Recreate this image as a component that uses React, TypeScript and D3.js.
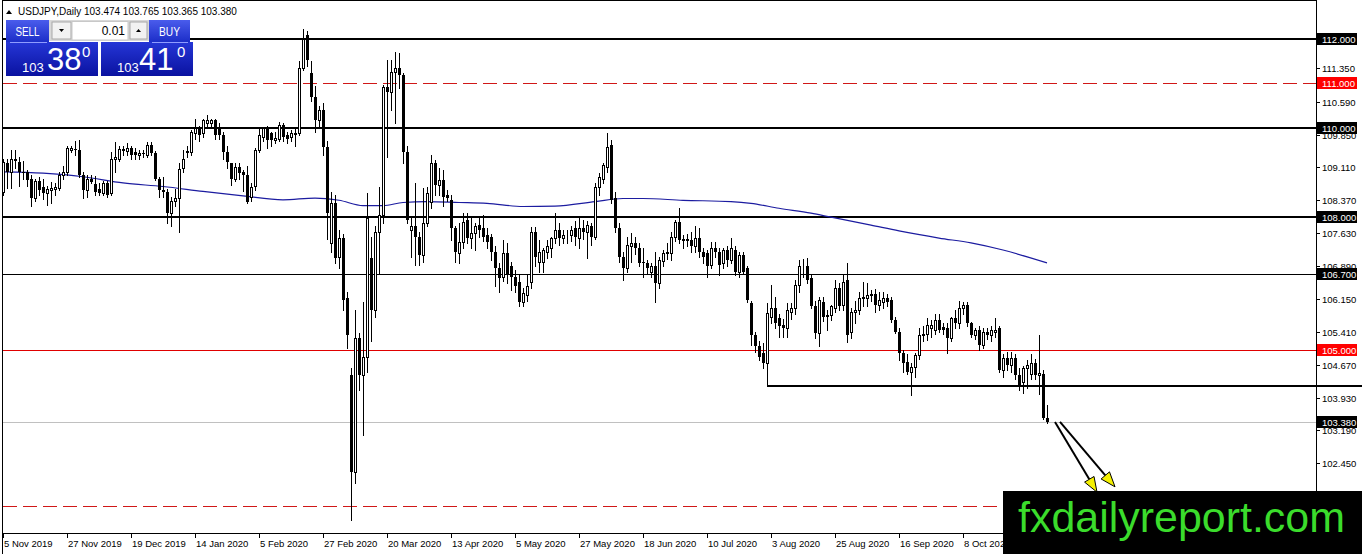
import * as d3 from 'd3'

// USDJPY daily bars starting 5 Nov 2019: [open, high, low, close]
const candles: [number, number, number, number][] = [
  // Nov 2019
  [108.56, 109.30, 108.50, 109.24], [109.20, 109.30, 108.64, 109.00], [109.00, 109.50, 108.64, 109.29],
  [109.28, 109.50, 109.10, 109.31], [109.24, 109.35, 108.70, 109.01], [109.01, 109.25, 108.85, 108.98],
  [109.00, 109.05, 108.70, 108.83], [108.84, 108.95, 108.23, 108.41], [108.41, 108.85, 108.35, 108.80],
  [108.80, 108.90, 108.50, 108.60], [108.68, 108.85, 108.40, 108.53], [108.54, 108.70, 108.26, 108.63],
  [108.60, 108.78, 108.30, 108.64], [108.62, 108.75, 108.50, 108.66], [108.64, 109.00, 108.60, 108.94],
  [108.94, 109.15, 108.85, 109.01], [109.01, 109.60, 108.95, 109.54], [109.50, 109.60, 109.45, 109.54],
  [109.53, 109.71, 109.40, 109.50],
  // Dec 2019
  [109.50, 109.73, 108.90, 108.94], [108.94, 109.00, 108.41, 108.60], [108.60, 108.95, 108.45, 108.86],
  [108.86, 108.95, 108.75, 108.79], [108.74, 108.92, 108.50, 108.56], [108.63, 108.75, 108.48, 108.53],
  [108.53, 108.80, 108.48, 108.75], [108.75, 108.80, 108.45, 108.49], [108.53, 109.46, 108.48, 109.31],
  [109.31, 109.69, 109.00, 109.35], [109.29, 109.60, 109.25, 109.52], [109.52, 109.60, 109.40, 109.47],
  [109.47, 109.65, 109.40, 109.54], [109.54, 109.60, 109.30, 109.39], [109.45, 109.55, 109.30, 109.38],
  [109.38, 109.50, 109.30, 109.43], [109.43, 109.50, 109.35, 109.41], [109.39, 109.69, 109.35, 109.61],
  [109.61, 109.69, 109.40, 109.43], [109.43, 109.48, 108.83, 108.86], [108.86, 108.90, 108.45, 108.60],
  // Jan 2020
  [108.60, 108.90, 108.45, 108.55], [108.55, 108.62, 107.85, 108.08], [108.08, 108.45, 107.78, 108.35],
  [108.35, 108.62, 108.25, 108.41], [108.41, 109.20, 107.66, 109.08], [109.09, 109.50, 109.00, 109.31],
  [109.49, 109.60, 109.35, 109.44], [109.46, 109.95, 109.40, 109.91], [109.88, 110.20, 109.75, 109.99],
  [109.99, 110.05, 109.70, 109.84], [109.88, 110.20, 109.80, 110.18], [110.12, 110.29, 110.00, 110.18],
  [110.12, 110.20, 110.05, 110.18], [110.18, 110.20, 109.75, 109.84], [109.98, 110.10, 109.75, 109.84],
  [109.84, 109.90, 109.30, 109.46], [109.46, 109.60, 109.10, 109.24], [109.20, 109.20, 108.72, 108.86],
  [108.86, 109.20, 108.80, 109.13], [109.13, 109.20, 108.85, 108.98], [109.00, 109.05, 108.58, 108.94],
  [108.94, 109.15, 108.30, 108.34],
  // Feb 2020
  [108.45, 108.75, 108.35, 108.68], [108.70, 109.55, 108.60, 109.50], [109.50, 110.00, 109.45, 109.84],
  [109.80, 110.02, 109.70, 109.99], [109.99, 110.05, 109.55, 109.73], [109.88, 109.90, 109.60, 109.73],
  [109.73, 109.90, 109.65, 109.78], [109.76, 110.14, 109.70, 110.06], [110.06, 110.10, 109.70, 109.80],
  [109.84, 109.90, 109.65, 109.76], [109.80, 109.95, 109.70, 109.88], [109.86, 110.00, 109.60, 109.88],
  [109.88, 111.50, 109.85, 111.34], [111.34, 112.23, 111.30, 112.01], [112.09, 112.17, 111.40, 111.53],
  [111.23, 111.50, 110.60, 110.70], [110.70, 110.95, 109.90, 110.18], [110.18, 110.50, 110.00, 110.40],
  [110.40, 110.55, 109.40, 109.58], [109.58, 109.70, 107.50, 108.08],
  // Mar 2020
  [107.40, 108.56, 107.20, 108.30], [108.30, 108.50, 106.95, 107.06], [107.10, 107.70, 106.84, 107.51],
  [107.51, 107.60, 105.90, 106.13], [106.16, 106.30, 105.04, 105.34], [104.44, 104.60, 101.17, 102.26],
  [102.26, 105.90, 102.00, 105.26], [105.26, 105.38, 104.10, 104.44], [104.44, 106.09, 103.09, 104.85],
  [104.85, 108.53, 104.51, 107.96], [107.06, 107.55, 105.20, 105.90], [105.90, 107.78, 105.75, 107.66],
  [107.66, 108.68, 106.73, 108.04], [108.04, 110.96, 107.85, 110.93], [110.93, 111.53, 109.35, 110.81],
  [110.81, 111.53, 110.40, 111.26], [111.26, 111.71, 110.10, 111.34], [111.34, 111.68, 110.90, 111.19],
  [111.19, 111.23, 109.20, 109.46], [109.46, 109.60, 107.85, 107.93], [107.70, 107.96, 107.10, 107.78],
  [107.78, 108.75, 106.91, 107.55],
  // Apr 2020
  [107.55, 107.66, 106.91, 107.14], [107.14, 108.64, 106.98, 107.85], [107.85, 108.68, 107.78, 108.53],
  [108.34, 109.38, 108.20, 109.20], [109.20, 109.28, 108.50, 108.71], [108.71, 109.10, 108.50, 108.83],
  [108.83, 109.05, 108.23, 108.45], [108.49, 108.60, 108.35, 108.42], [108.38, 108.50, 107.48, 107.74],
  [107.74, 107.80, 106.98, 107.21], [107.18, 107.85, 106.95, 107.44], [107.44, 108.08, 107.29, 107.89],
  [107.93, 108.08, 107.40, 107.51], [107.51, 108.00, 107.30, 107.63], [107.63, 107.85, 107.25, 107.78],
  [107.81, 107.96, 107.55, 107.70], [107.74, 108.04, 107.45, 107.55], [107.59, 107.75, 107.30, 107.44],
  [107.55, 107.60, 107.03, 107.21], [107.21, 107.33, 106.43, 106.84], [106.84, 106.95, 106.31, 106.61],
  [106.65, 107.48, 106.55, 107.18],
  // May 2020
  [107.18, 107.40, 106.50, 106.69], [106.88, 106.99, 106.35, 106.65], [106.65, 106.80, 106.30, 106.43],
  [106.54, 106.70, 105.98, 106.09], [106.09, 106.40, 105.98, 106.28], [106.24, 106.70, 106.10, 106.43],
  [106.54, 107.77, 106.40, 107.66], [107.66, 107.77, 106.90, 107.10], [106.99, 107.48, 106.76, 107.21],
  [106.99, 107.30, 106.75, 107.25], [107.21, 107.48, 107.06, 107.33], [107.29, 107.55, 107.10, 107.51],
  [107.51, 108.08, 107.40, 107.70], [107.70, 107.85, 107.36, 107.51], [107.51, 107.70, 107.40, 107.59],
  [107.60, 107.70, 107.40, 107.62], [107.59, 107.78, 107.45, 107.70], [107.74, 107.90, 107.36, 107.55],
  [107.51, 107.96, 107.29, 107.74], [107.74, 107.93, 107.50, 107.66], [107.66, 107.90, 107.06, 107.81],
  // Jun 2020
  [107.78, 107.85, 107.36, 107.55], [107.55, 108.75, 107.50, 108.68], [108.68, 108.98, 108.50, 108.90],
  [108.86, 109.20, 108.75, 109.16], [109.13, 109.88, 109.00, 109.58], [109.61, 109.73, 108.30, 108.38],
  [108.41, 108.55, 107.65, 107.74], [107.74, 107.85, 106.99, 107.10], [107.10, 107.20, 106.58, 106.84],
  [106.84, 107.55, 106.76, 107.36], [107.33, 107.63, 106.99, 107.40], [107.40, 107.55, 107.15, 107.30],
  [107.30, 107.40, 106.90, 106.96], [106.99, 107.29, 106.65, 106.95], [106.95, 107.03, 106.70, 106.84],
  [106.76, 106.95, 106.65, 106.89], [106.88, 107.21, 106.09, 106.50], [106.50, 107.10, 106.39, 107.03],
  [107.00, 107.25, 106.90, 107.18], [107.18, 107.40, 107.05, 107.21], [107.18, 107.66, 107.03, 107.55],
  [107.55, 107.93, 107.45, 107.89],
  // Jul 2020
  [107.89, 108.19, 107.40, 107.48], [107.49, 107.59, 107.30, 107.46], [107.47, 107.60, 107.35, 107.49],
  [107.48, 107.66, 107.20, 107.33], [107.33, 107.78, 107.20, 107.51], [107.51, 107.74, 107.10, 107.21],
  [107.21, 107.30, 106.95, 107.10], [107.18, 107.25, 106.65, 106.88], [106.91, 107.44, 106.85, 107.29],
  [107.29, 107.44, 107.10, 107.21], [107.21, 107.30, 106.69, 106.91], [106.95, 107.30, 106.85, 107.25],
  [107.25, 107.33, 106.90, 107.03], [107.03, 107.51, 106.95, 107.29], [107.25, 107.33, 106.69, 106.76],
  [106.76, 107.20, 106.65, 107.14], [107.14, 107.20, 106.70, 106.76], [106.84, 106.90, 106.09, 106.13],
  [106.05, 106.10, 105.11, 105.34], [105.34, 105.41, 104.95, 105.08], [105.08, 105.20, 104.78, 104.85],
  [104.93, 105.15, 104.60, 104.70], [104.70, 106.05, 104.20, 105.83],
  // Aug 2020
  [105.75, 106.46, 105.60, 105.94], [105.94, 106.20, 105.50, 105.60], [105.71, 105.80, 105.30, 105.53],
  [105.56, 105.70, 105.30, 105.49], [105.49, 106.05, 105.30, 105.90], [105.86, 106.05, 105.70, 105.94],
  [105.94, 106.58, 105.80, 106.46], [106.46, 107.03, 106.30, 106.88], [106.88, 107.05, 106.65, 106.90],
  [106.88, 107.06, 106.50, 106.58], [106.61, 106.70, 105.94, 105.98], [105.98, 106.10, 105.26, 105.38],
  [105.38, 106.20, 105.08, 106.13], [106.09, 106.20, 105.65, 105.75], [105.79, 105.90, 105.45, 105.75],
  [105.79, 106.01, 105.68, 105.98], [105.94, 106.58, 105.85, 106.39], [106.39, 106.50, 105.90, 105.98],
  [106.01, 106.69, 105.90, 106.54], [106.58, 106.95, 105.19, 105.34], [105.41, 105.95, 105.26, 105.86],
  // Sep 2020
  [105.86, 106.10, 105.60, 105.90], [105.90, 106.31, 105.80, 106.16], [106.16, 106.54, 106.00, 106.20],
  [106.16, 106.50, 106.00, 106.24], [106.24, 106.35, 106.10, 106.27], [106.27, 106.38, 105.85, 106.01],
  [106.01, 106.31, 105.90, 106.13], [106.09, 106.30, 105.95, 106.16], [106.16, 106.27, 106.00, 106.09],
  [106.12, 106.20, 105.64, 105.68], [105.68, 105.75, 105.38, 105.41], [105.41, 105.50, 104.78, 104.93],
  [104.93, 105.00, 104.51, 104.70], [104.74, 104.90, 104.45, 104.51], [104.51, 104.70, 103.99, 104.62],
  [104.62, 104.93, 104.40, 104.89], [104.89, 105.49, 104.80, 105.34], [105.34, 105.53, 105.20, 105.37],
  [105.37, 105.71, 105.23, 105.56], [105.49, 105.68, 105.30, 105.56], [105.45, 105.80, 105.35, 105.68],
  [105.68, 105.80, 105.40, 105.45],
  // Oct 2020
  [105.51, 105.60, 105.35, 105.45], [105.49, 105.60, 104.93, 105.26], [105.26, 105.75, 105.20, 105.71],
  [105.71, 105.90, 105.50, 105.60], [105.60, 106.10, 105.50, 105.94], [105.94, 106.07, 105.80, 106.01],
  [106.01, 106.07, 105.55, 105.60], [105.60, 105.64, 105.30, 105.34], [105.34, 105.50, 105.25, 105.46],
  [105.46, 105.55, 105.00, 105.11], [105.11, 105.49, 105.05, 105.41], [105.41, 105.50, 105.25, 105.34],
  [105.34, 105.55, 105.20, 105.45], [105.41, 105.71, 105.30, 105.45], [105.49, 105.55, 104.50, 104.55],
  [104.55, 104.90, 104.40, 104.81], [104.81, 104.95, 104.55, 104.66], [104.66, 104.95, 104.50, 104.81],
  [104.81, 104.90, 104.35, 104.44], [104.44, 104.60, 104.10, 104.20], [104.29, 104.65, 104.03, 104.59],
  [104.59, 104.78, 104.15, 104.66],
  // Nov 2020
  [104.47, 104.92, 104.35, 104.70], [104.70, 104.80, 104.35, 104.44], [104.44, 105.34, 104.00, 104.49],
  [104.47, 104.55, 103.44, 103.46], [103.474, 103.765, 103.365, 103.38],
]

// 200-day moving average, read at a few bars
const maBars = [0, 10, 20, 30, 40, 50, 60, 70, 78, 84, 90, 95, 100, 106, 114, 121, 130, 138, 148, 155, 160, 170, 182, 187, 194, 202, 207, 217, 224, 234, 242, 250, 261]
const maValues = [109.01, 108.98, 108.9, 108.76, 108.68, 108.57, 108.47, 108.38, 108.42, 108.37, 108.25, 108.25, 108.32, 108.34, 108.32, 108.3, 108.23, 108.24, 108.34, 108.41, 108.41, 108.37, 108.34, 108.3, 108.19, 108.08, 107.99, 107.81, 107.68, 107.52, 107.41, 107.25, 106.96]

const dateTickBars = [0, 16, 32, 48, 64, 80, 96, 112, 128, 144, 160, 176, 192, 208, 224, 240]
const dateTickLabels = ['5 Nov 2019', '27 Nov 2019', '19 Dec 2019', '14 Jan 2020', '5 Feb 2020', '27 Feb 2020', '20 Mar 2020', '13 Apr 2020', '5 May 2020', '27 May 2020', '18 Jun 2020', '10 Jul 2020', '3 Aug 2020', '25 Aug 2020', '16 Sep 2020', '8 Oct 2020']
const priceTicks = [111.35, 110.59, 109.85, 109.11, 108.37, 107.63, 106.89, 106.15, 105.41, 104.67, 103.93, 103.19, 102.45]

// horizontal levels drawn on the chart
const thickLevels = [112, 110, 108]
const thinLevel = 106.7
const redLevel = 105
const dashedLevels = [111, 101.5]
const supportLevel = 104.2
const supportFromBar = 191
const bid = 103.38
const ask = 103.41
const lot = '0.01'

// the two hand-drawn arrows: [bar, price]
const arrowStarts: [number, number][] = [[263, 103.38], [264.25, 103.38]]
const arrowTips: [number, number][] = [[273.5, 101.8], [278, 101.92]]

const W = 1362
const H = 554
const AXIS_X = 1316
const AXIS_Y = 534
const FONT = "'Liberation Sans', Arial, sans-serif"

function splitPrice(p: number) {
  const s = p.toFixed(3)
  return { head: s.slice(0, 3), big: s.slice(4, 6), tail: s.slice(6) }
}

export default function App() {
  const x = d3.scaleLinear().domain([0, 261]).range([3, 1047])
  const y = d3.scaleLinear().domain([105, 112]).range([350, 39])

  const maLine = d3
    .line<number>()
    .x((_, i) => x(maBars[i]))
    .y(d => y(d))
    .curve(d3.curveMonotoneX)

  const last = candles[candles.length - 1]
  const header = last.map(v => v.toFixed(3)).join(' ')
  const sellP = splitPrice(bid)
  const buyP = splitPrice(ask)

  const tagged: { price: number; color: string }[] = [
    ...thickLevels.map(p => ({ price: p, color: '#000' })),
    { price: thinLevel, color: '#000' },
    { price: dashedLevels[0], color: '#ff0000' },
    { price: redLevel, color: '#ff0000' },
    { price: bid, color: '#000' },
  ]

  const arrowHead = (s: [number, number], t: [number, number]) => {
    const x0 = x(s[0]), y0 = y(s[1]), x1 = x(t[0]), y1 = y(t[1])
    const len = Math.hypot(x1 - x0, y1 - y0)
    const ux = (x1 - x0) / len, uy = (y1 - y0) / len
    const bx = x1 - ux * 15, by = y1 - uy * 15
    const px = -uy * 5.5, py = ux * 5.5
    return { x0, y0, bx, by, pts: `${x1},${y1} ${bx + px},${by + py} ${bx - px},${by - py}` }
  }

  return (
    <svg width={W} height={H} style={{ position: 'absolute', left: 0, top: 0, background: '#fff' }} fontFamily={FONT}>
      <defs>
        <linearGradient id="btn" x1="0" y1="0" x2="0" y2="1">
          <stop offset="0" stopColor="#4a5cec" />
          <stop offset="1" stopColor="#1c2ec8" />
        </linearGradient>
        <linearGradient id="box" x1="0" y1="0" x2="0" y2="1">
          <stop offset="0" stopColor="#2536d6" />
          <stop offset="1" stopColor="#0a12a0" />
        </linearGradient>
        <clipPath id="plot">
          <rect x={3} y={0} width={AXIS_X - 3} height={AXIS_Y} />
        </clipPath>
      </defs>
      <rect width={W} height={H} fill="#fff" />

      {/* levels */}
      <g shapeRendering="crispEdges">
        {thickLevels.map(p => (
          <line key={p} x1={3} x2={AXIS_X} y1={Math.round(y(p))} y2={Math.round(y(p))} stroke="#000" strokeWidth={2} />
        ))}
        <line x1={3} x2={AXIS_X} y1={Math.round(y(thinLevel)) + 0.5} y2={Math.round(y(thinLevel)) + 0.5} stroke="#000" />
        <line x1={3} x2={AXIS_X} y1={Math.round(y(redLevel)) + 0.5} y2={Math.round(y(redLevel)) + 0.5} stroke="#e00000" />
        {dashedLevels.map(p => (
          <line key={p} x1={3} x2={AXIS_X} y1={Math.round(y(p)) + 0.5} y2={Math.round(y(p)) + 0.5} stroke="#d01818" strokeDasharray="14,6" />
        ))}
        <line x1={3} x2={AXIS_X} y1={Math.round(y(bid)) + 0.5} y2={Math.round(y(bid)) + 0.5} stroke="#c0c0c0" />
        <line x1={Math.round(x(supportFromBar))} x2={W} y1={Math.round(y(supportLevel))} y2={Math.round(y(supportLevel))} stroke="#000" strokeWidth={2} />
      </g>

      {/* moving average */}
      <path d={maLine(maValues) ?? ''} fill="none" stroke="#1c1ca0" strokeWidth={1.2} clipPath="url(#plot)" />

      {/* candles */}
      <g shapeRendering="crispEdges" clipPath="url(#plot)">
        {candles.map(([o, h, l, c], i) => {
          const cx = Math.round(x(i))
          const top = Math.round(y(Math.max(o, c)))
          const bot = Math.round(y(Math.min(o, c)))
          const up = c >= o
          return (
            <g key={i}>
              <line x1={cx + 0.5} x2={cx + 0.5} y1={Math.round(y(h))} y2={Math.round(y(l)) + 1} stroke="#000" />
              {up ? (
                <rect x={cx - 0.5} y={top + 0.5} width={2} height={Math.max(bot - top, 0)} fill="#fff" stroke="#000" />
              ) : (
                <rect x={cx - 1} y={top} width={3} height={Math.max(bot - top, 1)} fill="#000" />
              )}
            </g>
          )
        })}
      </g>

      {/* frame and axes */}
      <g shapeRendering="crispEdges" stroke="#000">
        <line x1={2.5} x2={2.5} y1={0} y2={H} />
        <line x1={AXIS_X + 0.5} x2={AXIS_X + 0.5} y1={0} y2={H} />
        <line x1={2} x2={AXIS_X} y1={AXIS_Y - 0.5} y2={AXIS_Y - 0.5} />
        <line x1={2} x2={AXIS_X} y1={0.5} y2={0.5} />
      </g>

      {/* price axis */}
      <g fontSize={9.5} fill="#000">
        {priceTicks.map(p => {
          const yy = Math.round(y(p))
          return (
            <g key={p}>
              <line x1={AXIS_X} x2={AXIS_X + 4} y1={yy + 0.5} y2={yy + 0.5} stroke="#000" shapeRendering="crispEdges" />
              <text x={AXIS_X + 6} y={yy + 3.5}>{p.toFixed(3)}</text>
            </g>
          )
        })}
        {tagged.map(t => {
          const yy = Math.round(y(t.price))
          return (
            <g key={t.price}>
              <rect x={AXIS_X + 1} y={yy - 6} width={40} height={12} fill={t.color} shapeRendering="crispEdges" />
              <text x={AXIS_X + 6} y={yy + 3.5} fill="#fff">{t.price.toFixed(3)}</text>
            </g>
          )
        })}
      </g>

      {/* time axis */}
      <g fontSize={9.5} fill="#000">
        {dateTickBars.map((b, i) => {
          const xx = Math.round(x(b))
          return (
            <g key={b}>
              <line x1={xx + 0.5} x2={xx + 0.5} y1={AXIS_Y} y2={AXIS_Y + 4} stroke="#000" shapeRendering="crispEdges" />
              <text x={xx + 1} y={547}>{dateTickLabels[i]}</text>
            </g>
          )
        })}
      </g>

      {/* header */}
      <polygon points="6,14 9,10 12,14" fill="#000" />
      <text x={18} y={15} fontSize={10} fill="#000">{`USDJPY,Daily  ${header}`}</text>

      {/* one-click trading panel */}
      <g>
        <rect x={49} y={20} width={100} height={21} fill="#d8d8d8" />
        <rect x={52} y={22} width={19} height={17} fill="#f2f2f2" stroke="#a8a8a8" />
        <polygon points="59,29 64,29 61.5,32" fill="#000" />
        <rect x={72} y={21.5} width={56} height={18.5} fill="#fff" stroke="#c8c8c8" />
        <text x={125} y={35} fontSize={12} textAnchor="end" fill="#000">{lot}</text>
        <rect x={130} y={22} width={17} height={17} fill="#f2f2f2" stroke="#a8a8a8" />
        <polygon points="136,32 141,32 138.5,29" fill="#000" />

        <rect x={6} y={20} width={43} height={22} fill="url(#btn)" />
        <text x={27.5} y={36} fontSize={13} textAnchor="middle" fill="#fff" textLength={24} lengthAdjust="spacingAndGlyphs">SELL</text>
        <rect x={149} y={20} width={41} height={22} fill="url(#btn)" />
        <text x={169.5} y={36} fontSize={13} textAnchor="middle" fill="#fff" textLength={21} lengthAdjust="spacingAndGlyphs">BUY</text>

        <rect x={6} y={42} width={92} height={34} fill="url(#box)" />
        <rect x={101} y={42} width={92} height={34} fill="url(#box)" />
        <line x1={10} x2={47} y1={42.5} y2={42.5} stroke="#8f9cff" />
        <line x1={152} x2={188} y1={42.5} y2={42.5} stroke="#8f9cff" />

        <text x={22} y={72} fontSize={13} fill="#fff">{sellP.head}</text>
        <text x={47} y={70} fontSize={31} fill="#fff">{sellP.big}</text>
        <text x={82} y={57} fontSize={15} fill="#fff">{sellP.tail}</text>
        <text x={117} y={72} fontSize={13} fill="#fff">{buyP.head}</text>
        <text x={139} y={70} fontSize={31} fill="#fff">{buyP.big}</text>
        <text x={177} y={57} fontSize={15} fill="#fff">{buyP.tail}</text>
      </g>

      {/* arrows */}
      {arrowStarts.map((s, i) => {
        const a = arrowHead(s, arrowTips[i])
        return (
          <g key={i}>
            <line x1={a.x0} y1={a.y0} x2={a.bx} y2={a.by} stroke="#000" strokeWidth={2} />
            <polygon points={a.pts} fill="#f4f000" stroke="#000" strokeWidth={1} />
          </g>
        )
      })}

      {/* watermark */}
      <rect x={1003} y={491} width={W - 1003} height={H - 491} fill="#000" />
      <text x={1018} y={532} fontSize={42} fill="#3bdc2c" textLength={327} lengthAdjust="spacingAndGlyphs">fxdailyreport.com</text>
    </svg>
  )
}
